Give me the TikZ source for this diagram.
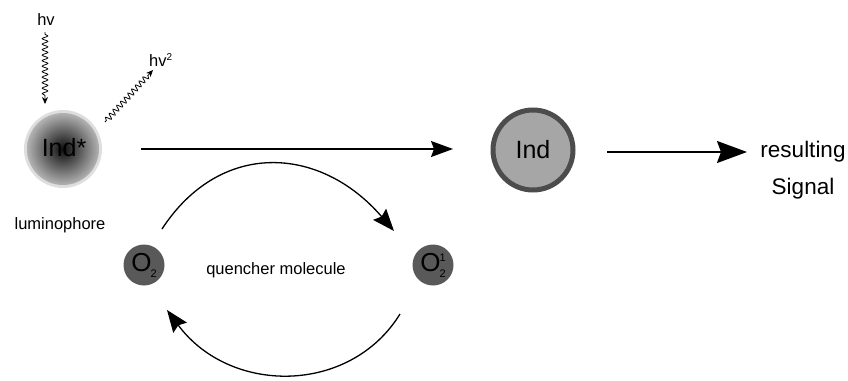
\documentclass[tikz,border=0pt]{standalone}
\usepackage{fontspec}
\setmainfont{Liberation Sans}
\usetikzlibrary{arrows.meta,decorations.pathmorphing}
\newcommand{\subfnt}{\fontsize{11}{11}\selectfont}
\begin{document}
\begin{tikzpicture}[x=1pt,y=-1pt,
  lbl/.style={inner sep=0pt,font=\fontsize{16.5}{18}\selectfont},
  big/.style={inner sep=0pt,font=\fontsize{25}{28}\selectfont},
  wave/.style={line width=0.8pt,decorate,decoration={snake,amplitude=2.8pt,segment length=5.5pt,pre length=2pt,post length=6pt},-{Stealth[length=7pt,width=6pt]}},
  mainarrow/.style={line width=1.4pt,-{Stealth[length=22pt,width=16pt,inset=3pt]}},
  bigarrow/.style={line width=1.8pt,-{Stealth[length=30pt,width=22pt,inset=4pt]}},
  arcarrow/.style={line width=1.3pt,-{Stealth[length=22pt,width=17pt,inset=3pt]}},
  molecule/.style={circle,fill=black!65,minimum size=41pt,inner sep=0pt,font=\fontsize{26}{27}\selectfont}
]
\useasboundingbox (0,0) rectangle (848,380);
% Ind* luminophore
\fill[black!13] (63,149) circle (39);
\shade[inner color=black!95,outer color=black!30] (63,149) circle (36);
\node[big] (indstar) at (64,148) {Ind*};
\node[lbl] (lum) at (60,225) {luminophore};
% photons
\node[lbl] (hv) at (46,20) {hv};
\coordinate (hvend) at (45,104);
\draw[wave] (hv.south) ++(-1,6) -- (hvend);
\node[lbl,anchor=west] (hv2) at (149,60) {hv\raisebox{6pt}{\fontsize{10}{10}\selectfont 2}};
\coordinate (emstart) at (105,122);
\coordinate (emend) at (153,70);
\draw[wave] (emstart) -- (emend);
% Ind
\node[circle,fill=black!35,draw=black!70,line width=5pt,minimum size=80pt,inner sep=0pt,big] (ind) at (533,150) {Ind};
\coordinate (a1) at (141,149);
\coordinate (a2) at (453,149);
\draw[mainarrow] (a1) -- (a2);
% signal
\node[lbl,font=\fontsize{22.5}{37}\selectfont,align=center] (sig) at (803,170) {resulting\\Signal};
\coordinate (b1) at (607,152);
\coordinate (b2) at (747,152);
\draw[bigarrow] (b1) -- (b2);
% quencher molecules
\node[molecule] (o2) at (144,265) {O\kern-1pt\raisebox{-6pt}{\subfnt 2}};
\node[molecule] (o21) at (433,265) {O\kern-1pt\raisebox{-6pt}{\subfnt 2}\kern-6pt\raisebox{10pt}{\subfnt 1}};
\node[lbl] (qm) at (276,270) {quencher molecule};
% cycle arcs
\coordinate (c1) at (162,229);
\coordinate (c2) at (394,231);
\draw[arcarrow] (c1) .. controls (220,140) and (320,145) .. (c2);
\coordinate (d1) at (400,314);
\coordinate (d2) at (167,310);
\draw[arcarrow] (d1) .. controls (350,395) and (230,395) .. (d2);
\end{tikzpicture}
\end{document}
